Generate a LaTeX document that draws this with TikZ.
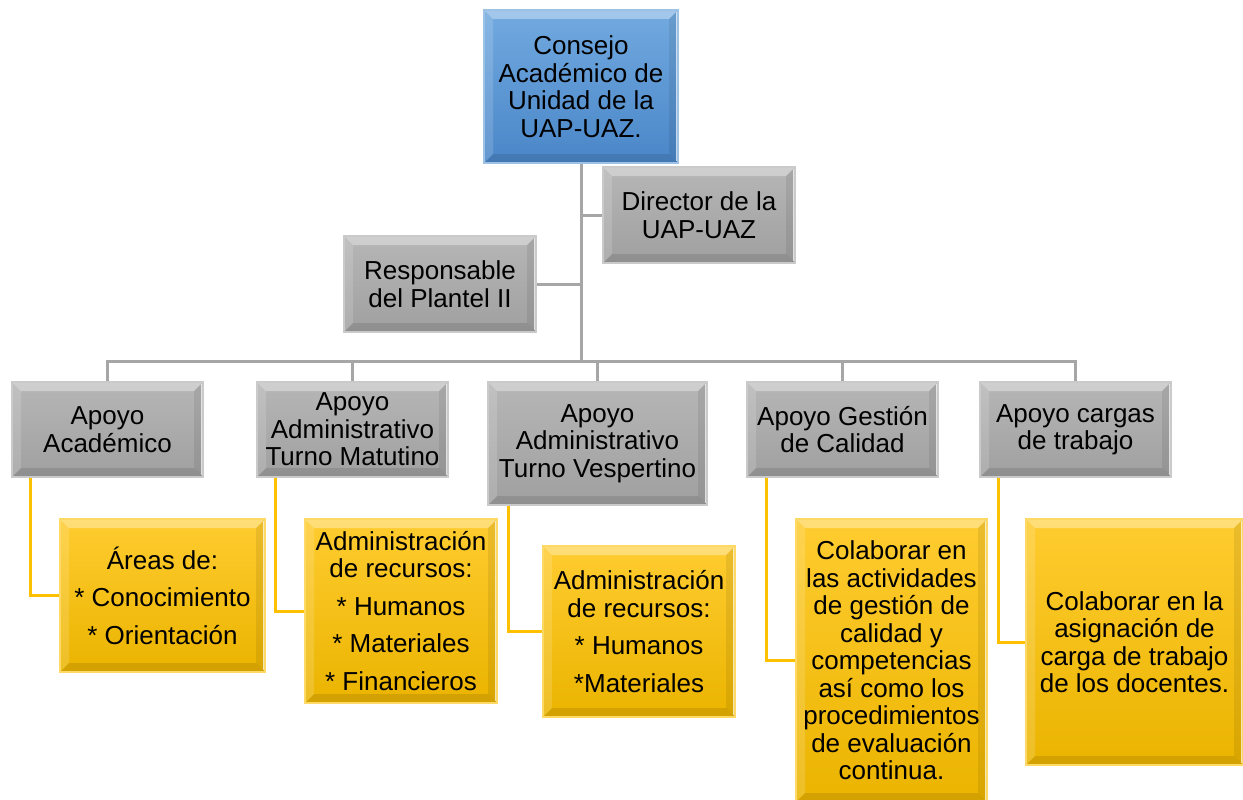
\documentclass[tikz,border=0pt]{standalone}
\usepackage{fontspec}
\setmainfont{Liberation Sans}
\usetikzlibrary{backgrounds}
\definecolor{gtop}{HTML}{B6B6B6}
\definecolor{gbot}{HTML}{A0A0A0}
\definecolor{gbord}{HTML}{CACACA}
\definecolor{btop}{HTML}{72AAE0}
\definecolor{bbot}{HTML}{4A86C8}
\definecolor{bbord}{HTML}{9CC3E6}
\definecolor{ytop}{HTML}{FFCC30}
\definecolor{ybot}{HTML}{EBB400}
\definecolor{ybord}{HTML}{FFD966}
\definecolor{gline}{HTML}{A6A6A6}
\definecolor{yline}{HTML}{FFC000}
\tikzset{
  x=1pt, y=-1pt,
  bevel/.style={path picture={
    \coordinate (nw) at (path picture bounding box.north west);
    \coordinate (ne) at (path picture bounding box.north east);
    \coordinate (sw) at (path picture bounding box.south west);
    \coordinate (se) at (path picture bounding box.south east);
    \fill[white,opacity=0.35] (nw) -- (ne) -- ([shift={(-9pt,-9pt)}]ne) -- ([shift={(9pt,-9pt)}]nw) -- cycle;
    \fill[white,opacity=0.15] (nw) -- ([shift={(9pt,-9pt)}]nw) -- ([shift={(9pt,9pt)}]sw) -- (sw) -- cycle;
    \fill[black,opacity=0.08] (ne) -- ([shift={(-9pt,-9pt)}]ne) -- ([shift={(-9pt,9pt)}]se) -- (se) -- cycle;
    \fill[black,opacity=0.10] (sw) -- ([shift={(9pt,9pt)}]sw) -- ([shift={(-9pt,9pt)}]se) -- (se) -- cycle;
    \draw[white,line width=2pt,opacity=0.7] ([shift={(-1.5pt,-2pt)}]ne) -- ([shift={(-1.5pt,2pt)}]se);
  }},
  box/.style={rectangle, bevel, line width=1.5pt, inner sep=2pt, align=center,
    font=\fontsize{26}{27.5}\selectfont, text=black},
  graybox/.style={box, draw=gbord, top color=gtop, bottom color=gbot},
  bluebox/.style={box, draw=bbord, top color=btop, bottom color=bbot},
  yelbox/.style={box, draw=ybord, top color=ytop, bottom color=ybot},
  gconn/.style={draw=gline, line width=3pt},
  yconn/.style={draw=yline, line width=3pt},
}
\begin{document}
\begin{tikzpicture}
\useasboundingbox (0,0) rectangle (1243,800);
% top level
\node[bluebox, minimum width=194pt, minimum height=153pt] (consejo) at (581,86.5)
  {Consejo\\Académico de\\Unidad de la\\UAP-UAZ.};
\node[graybox, minimum width=192pt, minimum height=96pt] (director) at (699,215)
  {Director de la\\UAP-UAZ};
\node[graybox, minimum width=192pt, minimum height=96pt] (resp) at (440,284)
  {Responsable\\del Plantel II};
% second level
\node[graybox, minimum width=191pt, minimum height=95pt] (aa) at (107.5,429.5)
  {Apoyo\\Académico};
\node[graybox, minimum width=191pt, minimum height=95pt] (am) at (352.5,429.5)
  {Apoyo\\Administrativo\\Turno Matutino};
\node[graybox, minimum width=219pt, minimum height=123pt] (av) at (597.5,443.5)
  {Apoyo\\Administrativo\\Turno Vespertino};
\node[graybox, minimum width=191pt, minimum height=95pt] (ag) at (842.5,429.5)
  {Apoyo Gestión\\de Calidad};
\node[graybox, minimum width=191pt, minimum height=95pt] (ac) at (1075.5,429.5)
  {Apoyo cargas\\de trabajo};
% third level
\node[yelbox, minimum width=205pt, minimum height=153pt] (ya) at (162.5,595.5)
  {Áreas de:\\[10pt]* Conocimiento\\[10pt]* Orientación};
\node[yelbox, minimum width=192pt, minimum height=184pt] (ym) at (401,611)
  {Administración\\de recursos:\\[10pt]* Humanos\\[10pt]* Materiales\\[10pt]* Financieros};
\node[yelbox, minimum width=192pt, minimum height=171pt] (yv) at (639,631.5)
  {Administración\\de recursos:\\[10pt]* Humanos\\[10pt]*Materiales};
\node[yelbox, minimum width=191pt, minimum height=283pt] (yg) at (891.5,660.5)
  {Colaborar en\\las actividades\\de gestión de\\calidad y\\competencias\\así como los\\procedimientos\\de evaluación\\continua.};
\node[yelbox, minimum width=217pt, minimum height=246pt] (yc) at (1134.5,642)
  {Colaborar en la\\asignación de\\carga de trabajo\\de los docentes.};
% connectors
\coordinate (bus) at (581,361);
\begin{scope}[on background layer]
\draw[gconn] (consejo.south) -- (bus);
\draw[gconn] (director.west) -- (director.west -| consejo.south);
\draw[gconn] (resp.east) -- (resp.east -| consejo.south);
\draw[gconn] (bus) -| (aa.north);
\draw[gconn] (bus) -| (am.north);
\draw[gconn] (bus) -| (av.north);
\draw[gconn] (bus) -| (ag.north);
\draw[gconn] (bus) -| (ac.north);
\draw[yconn] ([xshift=19pt]aa.south west) |- (ya.west);
\draw[yconn] ([xshift=19pt]am.south west) |- (ym.west);
\draw[yconn] ([xshift=21pt]av.south west) |- (yv.west);
\draw[yconn] ([xshift=20pt]ag.south west) |- (yg.west);
\draw[yconn] ([xshift=19pt]ac.south west) |- (yc.west);
\end{scope}
\end{tikzpicture}
\end{document}
